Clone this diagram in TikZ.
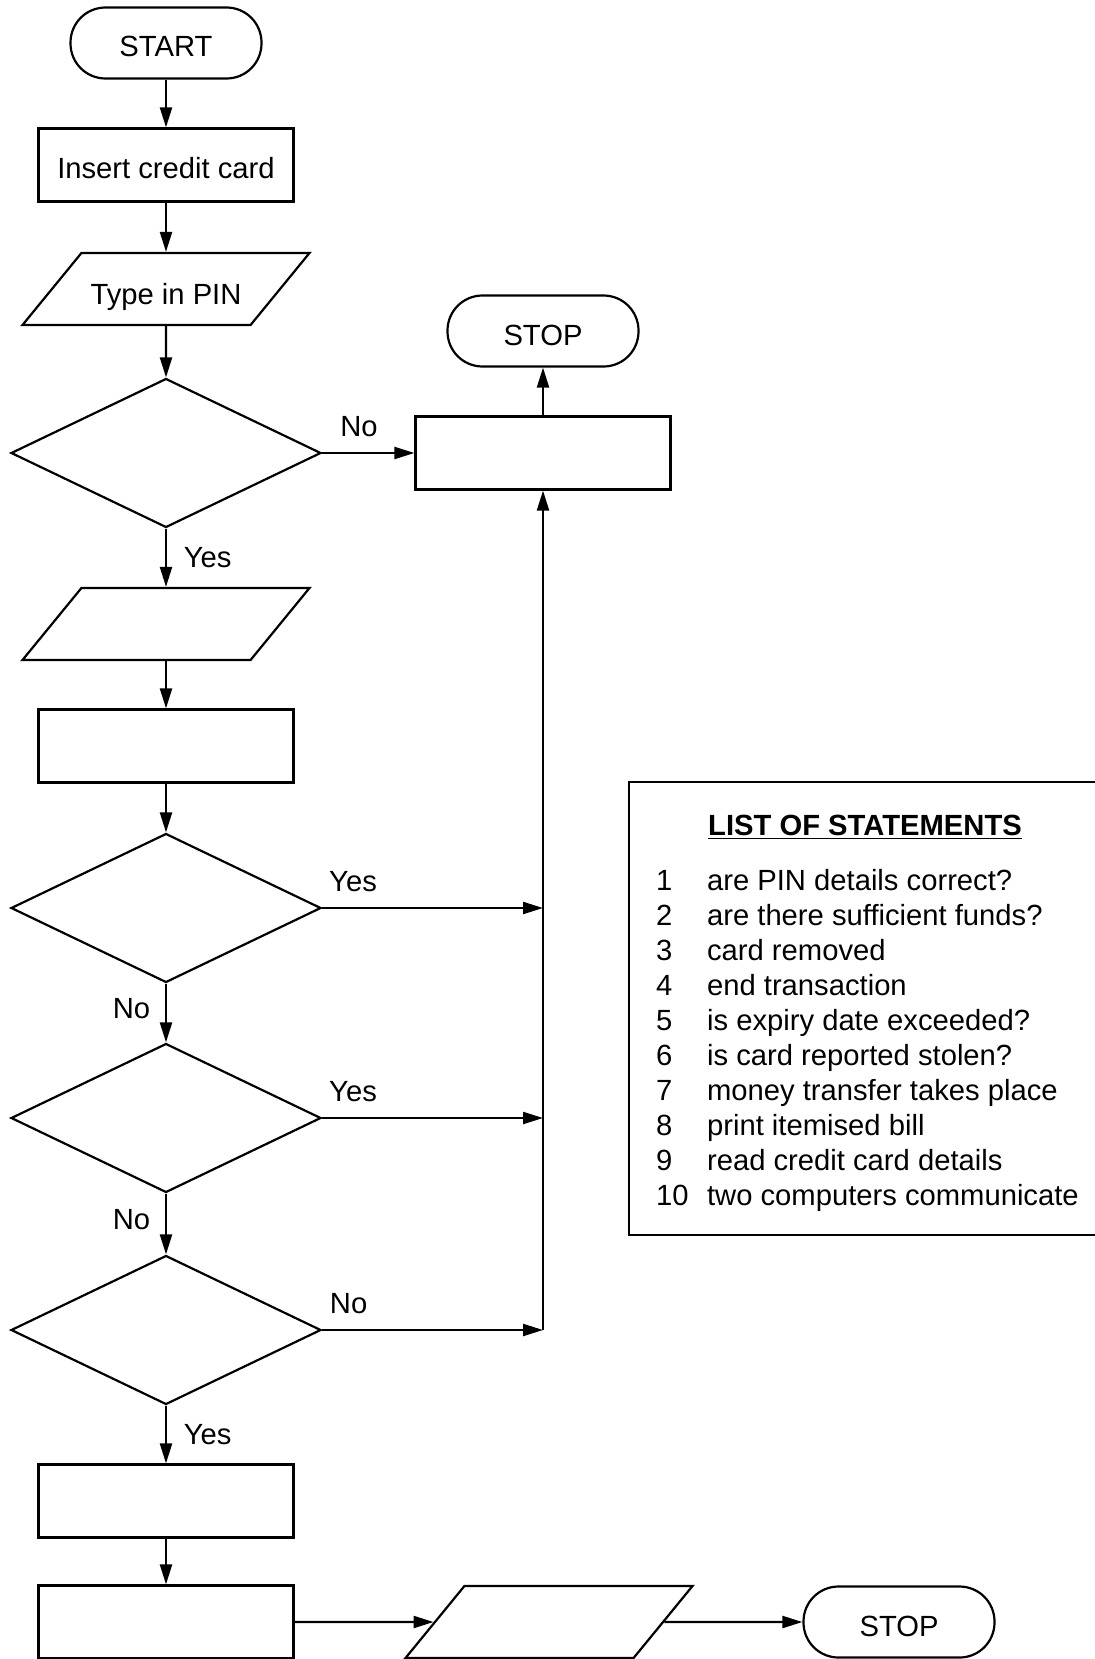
\documentclass[tikz,border=0pt]{standalone}
\usepackage{fontspec}
\setmainfont{Liberation Sans}
\usetikzlibrary{shapes.geometric,arrows.meta}
\begin{document}
\begin{tikzpicture}[x=0.5pt,y=-0.5pt,line width=1.1pt,>={Triangle[length=10pt,width=6pt]},
  font=\fontsize{14.6}{17.5}\selectfont,
  term/.style={draw,rounded corners=17.5pt,minimum width=95.5pt,minimum height=35.5pt,
    text height=14pt,text depth=0pt,inner sep=0pt},
  proc/.style={draw,minimum width=127.5pt,minimum height=36.5pt,
    text height=13pt,text depth=0pt,inner sep=0pt},
  io/.style={draw,trapezium,trapezium left angle=50.7,trapezium right angle=129.3,
    trapezium stretches body,minimum width=143.5pt,text height=15pt,text depth=0pt,
    inner xsep=0pt,inner ysep=10.5pt},
  test/.style={draw,diamond,minimum width=155pt,minimum height=74.5pt,inner sep=0pt},
  lbl/.style={yshift=4pt},
  item/.style={anchor=base west,inner sep=0pt}]
\useasboundingbox (0,0) rectangle (1094,1659);
% main column
\node[term,name=start] at (166,43){START};
\node[proc,name=insert] at (166,165){Insert credit card};
\node[io,name=pin] at (166,289){Type in PIN};
\node[test,name=q1] at (166,453){};
\node[io,name=in2] at (166,624){};
\node[proc,name=p3] at (166,746){};
\node[test,name=q2] at (166,908){};
\node[test,name=q3] at (166,1118){};
\node[test,name=q4] at (166,1330){};
\node[proc,name=p5] at (166,1501){};
\node[proc,name=p6] at (166,1622){};
% right column
\node[term,name=stop1] at (543,331){STOP};
\node[proc,name=finish] at (543,453){};
\node[io,name=out] at (549,1622){};
\node[term,name=stop2] at (899,1622){STOP};
\coordinate (j2) at (543,908);
\coordinate (j3) at (543,1118);
\coordinate (j4) at (543,1330);
% connectors
\draw[->] (start)--(insert);
\draw[->] (insert)--(pin);
\draw[->] (pin)--(q1);
\draw[->] (q1.east)--(finish.west)node[pos=0.4,above,lbl]{No};
\draw[->] (finish)--(stop1);
\draw[->] (q1.south)--(in2)node[midway,right,xshift=5pt]{Yes};
\draw[->] (in2)--(p3);
\draw[->] (p3)--(q2);
\draw[->] (q2.east)--(j2)node[pos=0.14,above,lbl]{Yes};
\draw[->] (q2.south)--(q3.north)node[midway,left,xshift=-4pt,yshift=2pt]{No};
\draw[->] (q3.east)--(j3)node[pos=0.14,above,lbl]{Yes};
\draw[->] (q3.south)--(q4.north)node[midway,left,xshift=-4pt,yshift=2pt]{No};
\draw[->] (q4.east)--(j4)node[pos=0.12,above,lbl]{No};
\draw[->] (j4)--(finish.south);
\draw[->] (q4.south)--(p5)node[midway,right,xshift=5pt]{Yes};
\draw[->] (p5)--(p6);
\draw[->] (p6)--(out);
\draw[->] (out)--(stop2);
% list of statements
\node[draw,name=list,minimum width=234pt,minimum height=226.5pt,inner sep=0pt] at (863,1008.5){};
\node[anchor=base,inner sep=0pt,name=title] at (865,835){\textbf{\underline{LIST OF STATEMENTS}}};
\node[item,name=n1] at (655,890){1};
\node[item,name=s1] at (706,890){are PIN details correct?};
\node[item,name=n2] at (655,925.1){2};
\node[item,name=s2] at (706,925.1){are there sufficient funds?};
\node[item,name=n3] at (655,960.2){3};
\node[item,name=s3] at (706,960.2){card removed};
\node[item,name=n4] at (655,995.3){4};
\node[item,name=s4] at (706,995.3){end transaction};
\node[item,name=n5] at (655,1030.4){5};
\node[item,name=s5] at (706,1030.4){is expiry date exceeded?};
\node[item,name=n6] at (655,1065.5){6};
\node[item,name=s6] at (706,1065.5){is card reported stolen?};
\node[item,name=n7] at (655,1100.6){7};
\node[item,name=s7] at (706,1100.6){money transfer takes place};
\node[item,name=n8] at (655,1135.7){8};
\node[item,name=s8] at (706,1135.7){print itemised bill};
\node[item,name=n9] at (655,1170.8){9};
\node[item,name=s9] at (706,1170.8){read credit card details};
\node[item,name=n10] at (655,1205.9){10};
\node[item,name=s10] at (706,1205.9){two computers communicate};
\end{tikzpicture}
\end{document}
